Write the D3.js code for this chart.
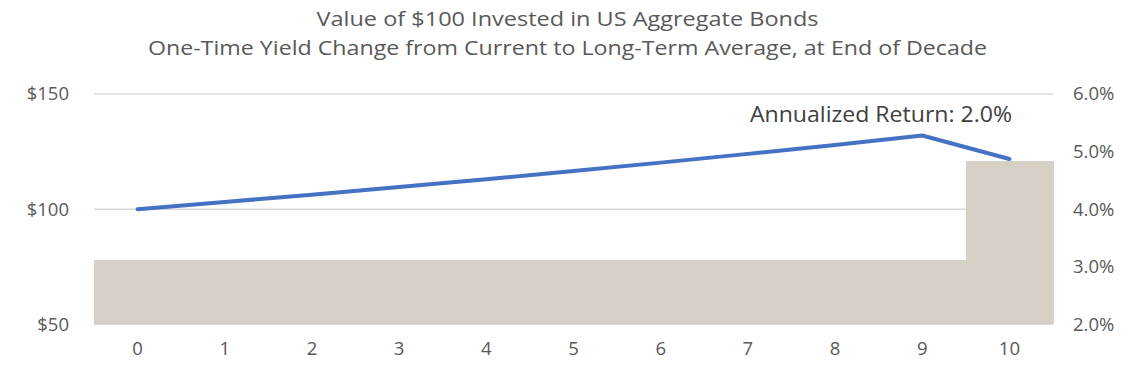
<!DOCTYPE html>
<html>
<head>
<meta charset="utf-8">
<script src="https://cdn.jsdelivr.net/npm/d3@7"></script>
<style>
  body { margin: 0; background: #fff; }
  text { font-family: "Open Sans", "Noto Sans", sans-serif; fill: #595959; }
</style>
</head>
<body>
<svg id="chart" width="1129" height="368"></svg>
<script>
// Value of $100 in bonds, with yield step at the end of the decade

var years = ["0", "1", "2", "3", "4", "5", "6", "7", "8", "9", "10"];
var portfolioValue = [100, 103.1, 106.3, 109.6, 113.0, 116.6, 120.2, 124.0, 127.9, 132.0, 121.8];
var yieldPct = [3.12, 3.12, 3.12, 3.12, 3.12, 3.12, 3.12, 3.12, 3.12, 3.12, 4.83];
var leftTicks = [50, 100, 150];
var rightTicks = [2, 3, 4, 5, 6];
var titleLines = [
  "Value of $100 Invested in US Aggregate Bonds",
  "One-Time Yield Change from Current to Long-Term Average, at End of Decade"
];
var note = "Annualized Return: 2.0%";

var svg = d3.select("#chart");
var plot = { left: 94, right: 1053, top: 94, bottom: 324.3 };

var x = d3.scaleBand().domain(years)
  .range([plot.left, plot.right]).padding(0);
var yLeft = d3.scaleLinear().domain([50, 150]).range([plot.bottom, plot.top]);
var yRight = d3.scaleLinear().domain([2, 6]).range([plot.bottom, plot.top]);

// Title
var titleWidths = [502, 839];
svg.selectAll("text.title").data(titleLines).enter().append("text")
  .attr("class", "title")
  .attr("x", 1129 / 2 + 3)
  .attr("y", function (d, i) { return 26 + i * 29; })
  .attr("text-anchor", "middle")
  .attr("textLength", function (d, i) { return titleWidths[i]; })
  .attr("lengthAdjust", "spacingAndGlyphs")
  .style("font-size", "20px")
  .text(function (d) { return d; });

// gridlines
svg.append("g").selectAll("line").data(leftTicks).enter().append("line")
  .attr("x1", plot.left).attr("x2", plot.right)
  .attr("y1", function (d) { return yLeft(d); })
  .attr("y2", function (d) { return yLeft(d); })
  .attr("stroke", "#d9d9d9").attr("stroke-width", 1.5);

// yield bars (secondary axis)
svg.append("g").attr("shape-rendering", "crispEdges")
  .selectAll("rect").data(years).enter().append("rect")
  .attr("x", function (d) { return x(d); })
  .attr("width", x.bandwidth() + 1)
  .attr("y", function (d, i) { return yRight(yieldPct[i]); })
  .attr("height", function (d, i) { return plot.bottom - yRight(yieldPct[i]); })
  .attr("fill", "#d6d0c6");

// value line
var line = d3.line()
  .x(function (d, i) { return x(years[i]) + x.bandwidth() / 2; })
  .y(function (d) { return yLeft(d); });

svg.append("path").datum(portfolioValue)
  .attr("d", line)
  .attr("fill", "none")
  .attr("stroke", "#4472c4")
  .attr("stroke-width", 4)
  .attr("stroke-linecap", "round")
  .attr("stroke-linejoin", "round");

// axes
var leftAxis = d3.axisLeft(yLeft).tickValues(leftTicks)
  .tickFormat(function (d) { return "$" + d; }).tickSize(0).tickPadding(25);
svg.append("g").attr("transform", "translate(" + plot.left + ",0)").call(leftAxis);

var rightAxis = d3.axisRight(yRight).tickValues(rightTicks)
  .tickFormat(function (d) { return d.toFixed(1) + "%"; }).tickSize(0).tickPadding(20);
svg.append("g").attr("transform", "translate(" + plot.right + ",0)").call(rightAxis);

var bottomAxis = d3.axisBottom(x).tickSize(0).tickPadding(18);
svg.append("g").attr("transform", "translate(0," + plot.bottom + ")").call(bottomAxis);

svg.selectAll(".domain").remove();
svg.selectAll(".tick text").style("font-size", "18.5px").attr("fill", "#595959");

// annotation
svg.append("text")
  .attr("x", 881).attr("y", 122)
  .attr("text-anchor", "middle")
  .attr("textLength", 262)
  .attr("lengthAdjust", "spacingAndGlyphs")
  .style("font-size", "21px")
  .style("fill", "#404040")
  .text(note);
</script>
</body>
</html>
